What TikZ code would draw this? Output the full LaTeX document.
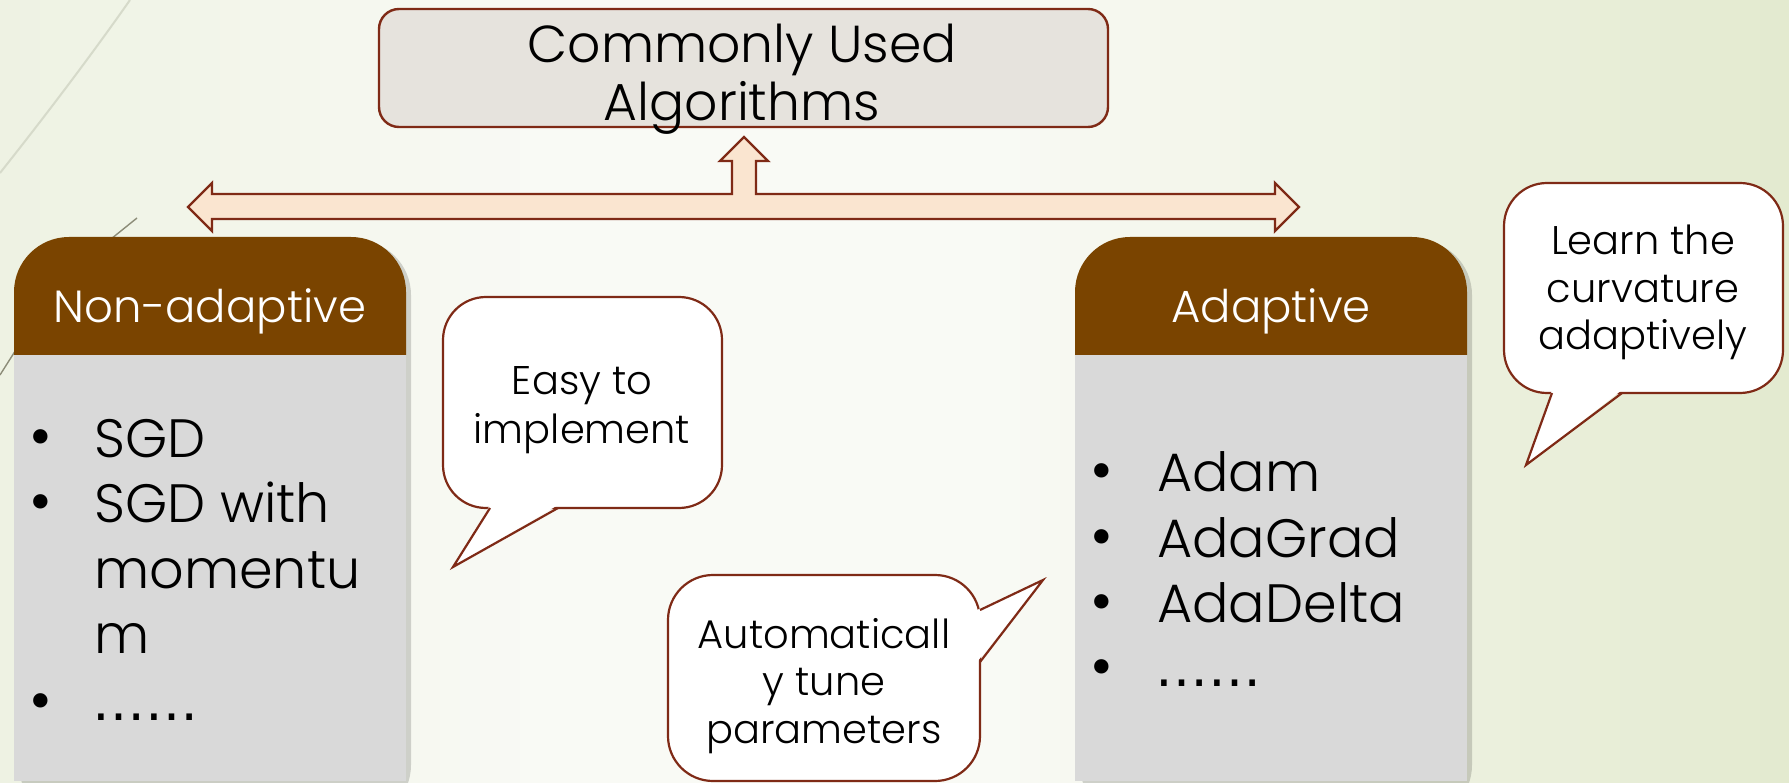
\documentclass[tikz,border=0pt]{standalone}
\usepackage{fontspec}
\setmainfont{Poppins Light}
\newfontfamily\dotsfont{DejaVu Sans}
\definecolor{brd}{HTML}{7F2A16}
\definecolor{hdr}{HTML}{7A4400}
\definecolor{bodyg}{HTML}{D9D9D9}
\definecolor{titlef}{HTML}{E6E3DD}
\definecolor{arrf}{HTML}{FAE5D0}
\definecolor{bgl}{HTML}{EEF2E3}
\definecolor{bgm}{HTML}{F9FAF5}
\definecolor{bgr}{HTML}{E3EACF}
\definecolor{decoa}{HTML}{D6DACA}
\definecolor{decob}{HTML}{8C8C78}
\tikzset{
  titlebox/.style={draw=brd, line width=2.4pt, fill=titlef, rounded corners=20pt, inner sep=0pt},
  titletext/.style={font=\fontsize{52}{60}\selectfont, text=black, inner sep=0pt, anchor=base},
  hdrtext/.style={font=\fontsize{45}{50}\selectfont, text=white, inner sep=0pt, anchor=base},
  itemtext/.style={font=\fontsize{54}{60}\selectfont, text=black, inner sep=0pt, anchor=base west},
  dotstext/.style={font=\dotsfont\fontsize{53}{60}\selectfont, text=black, inner sep=0pt, anchor=base west},
  bul/.style={font=\fontsize{62}{66}\selectfont, text=black, inner sep=0pt, anchor=center},
  bubtext/.style={font=\fontsize{40}{48}\selectfont, text=black, inner sep=0pt, anchor=base},
  bubbody/.style={draw=brd, line width=2.2pt, fill=white},
  bubline/.style={draw=brd, line width=2.2pt, line join=miter},
  blockarrow/.style={draw=brd, line width=2.4pt, fill=arrf, line join=miter},
  boxshadow/.style={fill=black, opacity=0.16},
}
\begin{document}
\begin{tikzpicture}[x=1pt,y=-1pt]
\useasboundingbox (0,0) rectangle (1789,783);
% background gradient in strips
\foreach \i in {0,...,89}{
  \pgfmathsetmacro{\gt}{\i/89}
  \pgfmathsetmacro{\pa}{min(100,\gt/0.3*100)}
  \pgfmathsetmacro{\pb}{max(0,(\gt-0.55)/0.45*100)}
  \ifdim\gt pt<0.55pt \colorlet{strip}{bgm!\pa!bgl}\else\colorlet{strip}{bgr!\pb!bgm}\fi
  \fill[strip] (\i*20,0) rectangle (\i*20+21,783);
}
\draw[decoa, line width=2pt] (0,173) .. controls (50,110) and (95,50) .. (130,0);
\draw[decob, line width=1.4pt] (137,218) .. controls (60,280) .. (0,375);

% title
\node[titlebox, minimum width=729pt, minimum height=118pt] (title) at (743.5,68) {};
\node[titletext] (t1) at (742,63) {Commonly Used};
\node[titletext] (t2) at (742,121) {Algorithms};

% block arrow
\draw[blockarrow] (188,207) -- (212,183) -- (212,194) -- (732,194) -- (732,161) -- (720,161)
  -- (744,137) -- (768,161) -- (756,161) -- (756,194) -- (1275,194) -- (1275,183)
  -- (1299,207) -- (1275,231) -- (1275,219) -- (212,219) -- (212,231) -- cycle;

% left box
\fill[boxshadow, rounded corners=55pt] (19,240) rectangle (411,820);
\begin{scope}
  \clip (0,0) rectangle (1789,355);
  \fill[hdr, rounded corners=55pt] (14,237) rectangle (406,900);
\end{scope}
\fill[bodyg] (14,355) rectangle (406,781);
\node[hdrtext] (nonadapt) at (210,323) {Non-adaptive};
\node[bul] (lb1) at (41,444) {•};
\node[itemtext] (li1) at (94,457) {SGD};
\node[bul] (lb2) at (41,509) {•};
\node[itemtext] (li2) at (94,522) {SGD with};
\node[itemtext] (li3) at (94,588) {momentu};
\node[itemtext] (li4) at (94,653) {m};
\node[bul] (lb3) at (41,708) {•};
\node[dotstext] (li5) at (92,720) {……};

% right box
\fill[boxshadow, rounded corners=55pt] (1080,240) rectangle (1472,820);
\begin{scope}
  \clip (0,0) rectangle (1789,355);
  \fill[hdr, rounded corners=55pt] (1075,237) rectangle (1467,900);
\end{scope}
\fill[bodyg] (1075,355) rectangle (1467,781);
\node[hdrtext] (adapt) at (1271,323) {Adaptive};
\node[bul] (rb1) at (1102,478) {•};
\node[itemtext] (ri1) at (1157,491) {Adam};
\node[bul] (rb2) at (1102,544) {•};
\node[itemtext] (ri2) at (1157,557) {AdaGrad};
\node[bul] (rb3) at (1102,609) {•};
\node[itemtext] (ri3) at (1157,622) {AdaDelta};
\node[bul] (rb4) at (1102,674) {•};
\node[dotstext] (ri4) at (1155,686) {……};

% bubble 1
\draw[bubbody, rounded corners=43pt] (443,297) rectangle (722,508);
\fill[white] (490,505) -- (453,567) -- (558,505) -- cycle;
\draw[bubline] (490,508) -- (453,567) -- (558,508);
\node[bubtext] (e1) at (582,395) {Easy to};
\node[bubtext] (e2) at (582,443) {implement};

% bubble 2
\draw[bubbody, rounded corners=45pt] (668,575) rectangle (980,781);
\fill[white] (977,610) -- (1043,580) -- (977,662) -- cycle;
\draw[bubline] (980,610) -- (1043,580) -- (980,662);
\node[bubtext] (a1) at (824,648) {Automaticall};
\node[bubtext] (a2) at (824,695) {y tune};
\node[bubtext] (a3) at (824,743) {parameters};

% bubble 3
\draw[bubbody, rounded corners=43pt] (1504,183) rectangle (1783,393);
\fill[white] (1552,390) -- (1526,465) -- (1622,390) -- cycle;
\draw[bubline] (1552,393) -- (1526,465) -- (1622,393);
\node[bubtext] (c1) at (1643,255) {Learn the};
\node[bubtext] (c2) at (1643,303) {curvature};
\node[bubtext] (c3) at (1643,350) {adaptively};
\end{tikzpicture}
\end{document}
